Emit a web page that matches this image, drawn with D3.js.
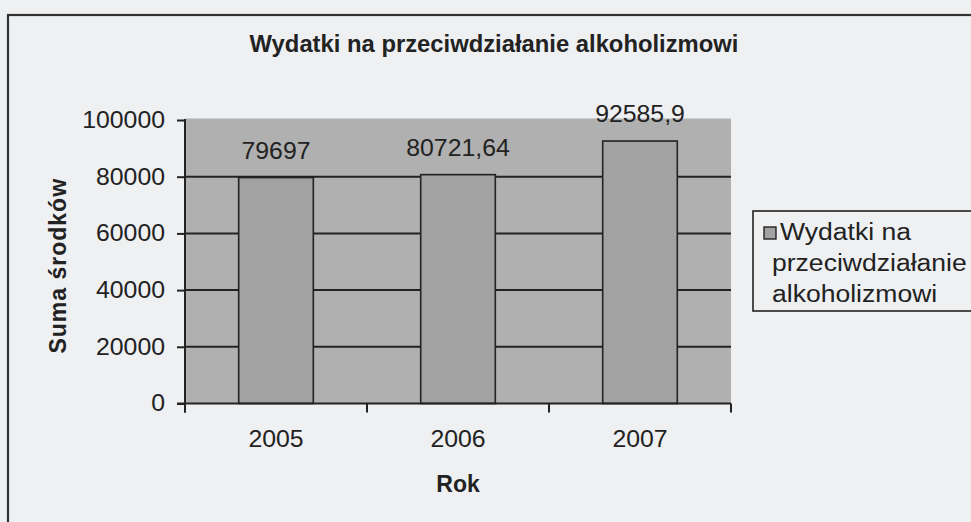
<!DOCTYPE html>
<html>
<head>
<meta charset="utf-8">
<script src="https://cdn.jsdelivr.net/npm/d3@7/dist/d3.min.js"></script>
<style>
  html, body { margin: 0; padding: 0; background: #eef0f2; }
  svg { display: block; }
  text { font-family: "Liberation Sans", Arial, sans-serif; fill: #222; }
</style>
</head>
<body>
<svg id="chart" width="971" height="522"></svg>
<script>
// ---- data ----
const years = ["2005", "2006", "2007"];
const values = [79697, 80721.64, 92585.9];
const valueLabels = ["79697", "80721,64", "92585,9"];
const yTicks = [0, 20000, 40000, 60000, 80000, 100000];
const gridValues = [20000, 40000, 60000, 80000];
const titleText = "Wydatki na przeciwdziałanie alkoholizmowi";
const xTitle = "Rok";
const yTitle = "Suma środków";
const legendLines = ["Wydatki na", "przeciwdziałanie", "alkoholizmowi"];

// ---- layout ----
const W = 971, H = 522;
const plot = { left: 185, right: 731, top: 120, bottom: 403.5 };
const SX = 1.08;       // horizontal stretch of the scanned regular text
const FS = 23;         // regular font size
const ink = "#222";

const svg = d3.select("#chart");

svg.append("rect").attr("width", W).attr("height", H).attr("fill", "#eef0f2");

// outer chart border (extends past the right/bottom edge)
svg.append("rect")
  .attr("x", 8).attr("y", 15).attr("width", W + 20).attr("height", H + 20)
  .attr("fill", "none").attr("stroke", "#333").attr("stroke-width", 2.2);

const x = d3.scaleBand().domain(years)
  .range([plot.left, plot.right]).paddingInner(0.59).paddingOuter(0.295);
const y = d3.scaleLinear().domain([0, 100000]).range([plot.bottom, plot.top]);

// plot area
svg.append("rect")
  .attr("x", plot.left).attr("y", y(100000) - 1.5)
  .attr("width", plot.right - plot.left).attr("height", plot.bottom - y(100000) + 1.5)
  .attr("fill", "#b0b0b0");

// gridlines
svg.append("g").selectAll("line").data(gridValues).join("line")
  .attr("x1", plot.left).attr("x2", plot.right)
  .attr("y1", d => y(d)).attr("y2", d => y(d))
  .attr("stroke", ink).attr("stroke-width", 2);

// bars
svg.append("g").selectAll("rect").data(values).join("rect")
  .attr("x", (d, i) => x(years[i]))
  .attr("y", d => y(d))
  .attr("width", x.bandwidth())
  .attr("height", d => plot.bottom - y(d))
  .attr("fill", "#a2a2a2")
  .attr("stroke", ink).attr("stroke-width", 1.6);

// helper for stretched text
function stext(g, px, py, str, anchor, opts = {}) {
  return g.append("text")
    .attr("transform", `translate(${px},${py}) scale(${opts.sx || SX},1)`)
    .attr("text-anchor", anchor)
    .attr("font-size", opts.fs || FS)
    .attr("font-weight", opts.bold ? "bold" : null)
    .text(str);
}

// data labels
const lg = svg.append("g");
values.forEach((v, i) => {
  stext(lg, x(years[i]) + x.bandwidth() / 2, y(v) - 19, valueLabels[i], "middle");
});

// y axis
const yAxis = d3.axisLeft(y).tickValues(yTicks).tickSize(8).tickPadding(13)
  .tickFormat(d3.format("d"));
const gy = svg.append("g").attr("transform", `translate(${plot.left},0)`).call(yAxis);
gy.select(".domain").remove();
gy.selectAll(".tick line").attr("stroke", ink).attr("stroke-width", 2);
gy.selectAll(".tick text")
  .attr("font-size", FS).attr("fill", ink)
  .attr("font-family", '"Liberation Sans", Arial, sans-serif')
  .attr("x", -20 / SX).attr("transform", `scale(${SX},1)`);
svg.append("line")
  .attr("x1", plot.left).attr("x2", plot.left)
  .attr("y1", y(100000) - 1).attr("y2", plot.bottom + 9)
  .attr("stroke", ink).attr("stroke-width", 2);

// x axis
svg.append("line")
  .attr("x1", plot.left - 8).attr("x2", plot.right)
  .attr("y1", plot.bottom).attr("y2", plot.bottom)
  .attr("stroke", ink).attr("stroke-width", 2);
const bounds = years.map(d => x(d) - (x.step() - x.bandwidth()) / 2)
  .concat([x(years[years.length - 1]) + x.bandwidth() + (x.step() - x.bandwidth()) / 2]);
svg.append("g").selectAll("line").data(bounds).join("line")
  .attr("x1", d => d).attr("x2", d => d)
  .attr("y1", plot.bottom).attr("y2", plot.bottom + 9)
  .attr("stroke", ink).attr("stroke-width", 2);
const xg = svg.append("g");
years.forEach(d => stext(xg, x(d) + x.bandwidth() / 2, 447, d, "middle"));

// titles
svg.append("text").attr("x", 494).attr("y", 52).attr("text-anchor", "middle")
  .attr("font-size", 23.8).attr("font-weight", "bold").text(titleText);
svg.append("text").attr("x", 458).attr("y", 492).attr("text-anchor", "middle")
  .attr("font-size", 23).attr("font-weight", "bold").text(xTitle);
svg.append("text")
  .attr("transform", `translate(66,${(plot.top + plot.bottom) / 2 + 4}) rotate(-90)`)
  .attr("text-anchor", "middle").attr("font-size", 23).attr("font-weight", "bold")
  .attr("letter-spacing", 1).text(yTitle);

// legend
const leg = svg.append("g");
leg.append("rect").attr("x", 753).attr("y", 211).attr("width", 240).attr("height", 100)
  .attr("fill", "#eef0f2").attr("stroke", ink).attr("stroke-width", 1.6);
leg.append("rect").attr("x", 764).attr("y", 227).attr("width", 12).attr("height", 12)
  .attr("fill", "#a2a2a2").attr("stroke", ink).attr("stroke-width", 1.4);
const lx = [780, 772, 772], ly = [240, 271, 302];
legendLines.forEach((s, i) => stext(leg, lx[i], ly[i], s, "start", { fs: 23.5, sx: 1.13 }));
</script>
</body>
</html>
